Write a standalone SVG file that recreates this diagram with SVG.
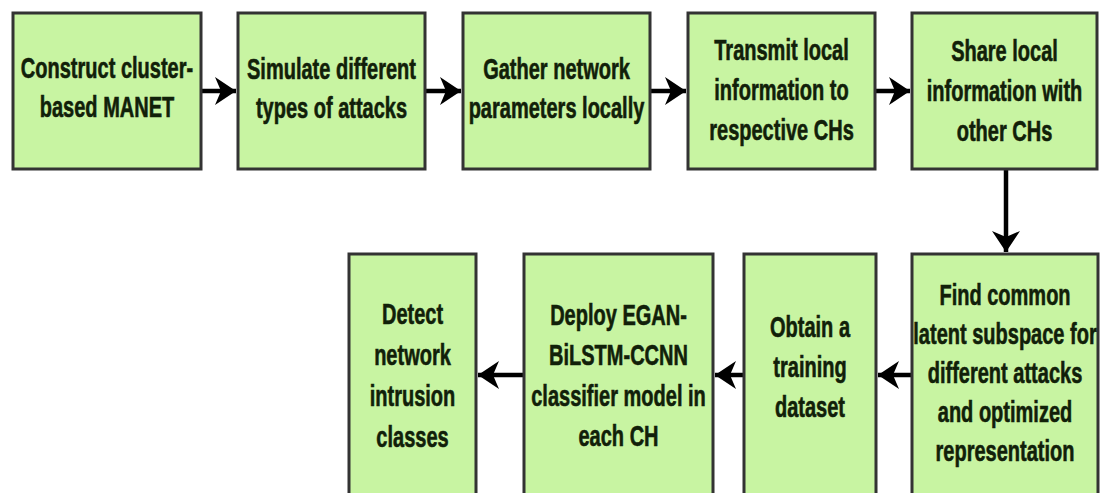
<svg xmlns="http://www.w3.org/2000/svg" width="1102" height="493" viewBox="0 0 1102 493">
<style>
.box{fill:#c8f4a2;stroke:#333;stroke-width:3}
.t{font-family:"Liberation Sans",Arial,sans-serif;font-weight:bold;font-size:29px;fill:#112009;stroke:#112009;stroke-width:0.6;text-anchor:middle}
.c{stroke:#000;stroke-width:4.5;fill:none}
</style>
<defs>
<marker id="ah" markerUnits="userSpaceOnUse" markerWidth="24" markerHeight="30" refX="21" refY="14" orient="auto" viewBox="0 0 24 30">
<path d="M0,0 L21,14 L0,28 L6,14 Z" fill="#000"/>
</marker>
</defs>
<rect width="1102" height="493" fill="#fff"/>
<g id="connectors">
<line class="c" x1="201" y1="91" x2="236" y2="91" marker-end="url(#ah)"/>
<line class="c" x1="425" y1="91" x2="461" y2="91" marker-end="url(#ah)"/>
<line class="c" x1="650" y1="91" x2="686" y2="91" marker-end="url(#ah)"/>
<line class="c" x1="875" y1="91" x2="910" y2="91" marker-end="url(#ah)"/>
<line class="c" x1="1006" y1="169" x2="1006" y2="252" marker-end="url(#ah)"/>
<line class="c" x1="912" y1="375" x2="878" y2="375" marker-end="url(#ah)"/>
<line class="c" x1="744" y1="375" x2="715" y2="375" marker-end="url(#ah)"/>
<line class="c" x1="524" y1="375" x2="478" y2="375" marker-end="url(#ah)"/>
</g>
<g id="n1"><rect class="box" x="13" y="13" width="188" height="156"/>
<text class="t" transform="translate(107 0) scale(0.69 1)"><tspan x="0" y="78">Construct cluster-</tspan><tspan x="0" y="117">based MANET</tspan></text></g>
<g id="n2"><rect class="box" x="238" y="13" width="187" height="156"/>
<text class="t" transform="translate(331.5 0) scale(0.69 1)"><tspan x="0" y="79">Simulate different</tspan><tspan x="0" y="118">types of attacks</tspan></text></g>
<g id="n3"><rect class="box" x="463" y="13" width="187" height="156"/>
<text class="t" transform="translate(556.5 0) scale(0.69 1)"><tspan x="0" y="79">Gather network</tspan><tspan x="0" y="118">parameters locally</tspan></text></g>
<g id="n4"><rect class="box" x="688" y="13" width="187" height="156"/>
<text class="t" transform="translate(781.5 0) scale(0.69 1)"><tspan x="0" y="60">Transmit local</tspan><tspan x="0" y="100">information to</tspan><tspan x="0" y="140">respective CHs</tspan></text></g>
<g id="n5"><rect class="box" x="912" y="13" width="185" height="156"/>
<text class="t" transform="translate(1004.5 0) scale(0.69 1)"><tspan x="0" y="61">Share local</tspan><tspan x="0" y="101">information with</tspan><tspan x="0" y="141">other CHs</tspan></text></g>
<g id="n6"><rect class="box" x="912" y="254" width="186" height="250"/>
<text class="t" transform="translate(1005 0) scale(0.69 1)"><tspan x="0" y="305">Find common</tspan><tspan x="0" y="344">latent subspace for</tspan><tspan x="0" y="383">different attacks</tspan><tspan x="0" y="422">and optimized</tspan><tspan x="0" y="461">representation</tspan></text></g>
<g id="n7"><rect class="box" x="744" y="254" width="132" height="250"/>
<text class="t" transform="translate(810 0) scale(0.69 1)"><tspan x="0" y="337">Obtain a</tspan><tspan x="0" y="377">training</tspan><tspan x="0" y="417">dataset</tspan></text></g>
<g id="n8"><rect class="box" x="524" y="254" width="189" height="250"/>
<text class="t" transform="translate(618.5 0) scale(0.69 1)"><tspan x="0" y="325">Deploy EGAN-</tspan><tspan x="0" y="365">BiLSTM-CCNN</tspan><tspan x="0" y="406">classifier model in</tspan><tspan x="0" y="446">each CH</tspan></text></g>
<g id="n9"><rect class="box" x="349" y="254" width="127" height="250"/>
<text class="t" transform="translate(412.5 0) scale(0.69 1)"><tspan x="0" y="324">Detect</tspan><tspan x="0" y="365">network</tspan><tspan x="0" y="406">intrusion</tspan><tspan x="0" y="447">classes</tspan></text></g>
</svg>
